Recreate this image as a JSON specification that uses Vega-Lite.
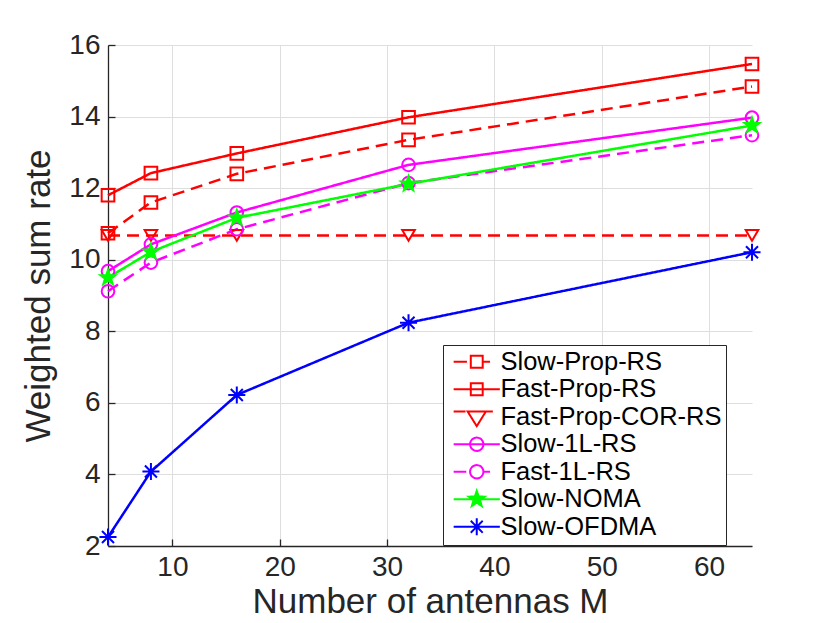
{
  "$schema": "https://vega.github.io/schema/vega-lite/v6.json",
  "autosize": "none",
  "width": 644,
  "height": 501,
  "padding": {"left": 108, "top": 45, "right": 78, "bottom": 77},
  "background": "white",
  "config": {
    "view": {"stroke": null},
    "font": "Liberation Sans",
    "axis": {
      "labelFont": "Liberation Sans",
      "titleFont": "Liberation Sans",
      "labelFontSize": 28,
      "titleFontSize": 35,
      "titleFontWeight": "normal",
      "labelColor": "#262626",
      "titleColor": "#262626",
      "domainColor": "#262626",
      "domainWidth": 1.3,
      "tickColor": "#262626",
      "tickSize": -7,
      "tickWidth": 1.3,
      "gridColor": "#dedede",
      "gridWidth": 1
    }
  },
  "data": {
    "values": [
      {"M": 4, "series": "Slow-Prop-RS", "rate": 10.74},
      {"M": 8, "series": "Slow-Prop-RS", "rate": 11.6},
      {"M": 16, "series": "Slow-Prop-RS", "rate": 12.4},
      {"M": 32, "series": "Slow-Prop-RS", "rate": 13.35},
      {"M": 64, "series": "Slow-Prop-RS", "rate": 14.84},
      {"M": 4, "series": "Fast-Prop-RS", "rate": 11.8},
      {"M": 8, "series": "Fast-Prop-RS", "rate": 12.42},
      {"M": 16, "series": "Fast-Prop-RS", "rate": 12.97},
      {"M": 32, "series": "Fast-Prop-RS", "rate": 13.98},
      {"M": 64, "series": "Fast-Prop-RS", "rate": 15.47},
      {"M": 4, "series": "Fast-Prop-COR-RS", "rate": 10.68},
      {"M": 8, "series": "Fast-Prop-COR-RS", "rate": 10.68},
      {"M": 16, "series": "Fast-Prop-COR-RS", "rate": 10.68},
      {"M": 32, "series": "Fast-Prop-COR-RS", "rate": 10.68},
      {"M": 64, "series": "Fast-Prop-COR-RS", "rate": 10.68},
      {"M": 4, "series": "Slow-1L-RS", "rate": 9.68},
      {"M": 8, "series": "Slow-1L-RS", "rate": 10.43},
      {"M": 16, "series": "Slow-1L-RS", "rate": 11.32},
      {"M": 32, "series": "Slow-1L-RS", "rate": 12.65},
      {"M": 64, "series": "Slow-1L-RS", "rate": 13.97},
      {"M": 4, "series": "Fast-1L-RS", "rate": 9.12},
      {"M": 8, "series": "Fast-1L-RS", "rate": 9.92},
      {"M": 16, "series": "Fast-1L-RS", "rate": 10.85},
      {"M": 32, "series": "Fast-1L-RS", "rate": 12.14},
      {"M": 64, "series": "Fast-1L-RS", "rate": 13.48},
      {"M": 4, "series": "Slow-NOMA", "rate": 9.5},
      {"M": 8, "series": "Slow-NOMA", "rate": 10.22},
      {"M": 16, "series": "Slow-NOMA", "rate": 11.17},
      {"M": 32, "series": "Slow-NOMA", "rate": 12.12},
      {"M": 64, "series": "Slow-NOMA", "rate": 13.75},
      {"M": 4, "series": "Slow-OFDMA", "rate": 2.25},
      {"M": 8, "series": "Slow-OFDMA", "rate": 4.08},
      {"M": 16, "series": "Slow-OFDMA", "rate": 6.22},
      {"M": 32, "series": "Slow-OFDMA", "rate": 8.24},
      {"M": 64, "series": "Slow-OFDMA", "rate": 10.21}
    ]
  },
  "encoding": {
    "x": {
      "field": "M",
      "type": "quantitative",
      "scale": {"domain": [4, 64], "nice": false, "zero": false},
      "axis": {
        "title": "Number of antennas M",
        "values": [10, 20, 30, 40, 50, 60],
        "labelPadding": 14,
        "titlePadding": 3
      }
    },
    "y": {
      "field": "rate",
      "type": "quantitative",
      "scale": {"domain": [2, 16], "nice": false, "zero": false},
      "axis": {
        "title": "Weighted sum rate",
        "values": [2, 4, 6, 8, 10, 12, 14, 16],
        "labelPadding": 15,
        "titlePadding": 12
      }
    },
    "color": {
      "field": "series",
      "type": "nominal",
      "scale": {
        "domain": ["Slow-Prop-RS", "Fast-Prop-RS", "Fast-Prop-COR-RS", "Slow-1L-RS", "Fast-1L-RS", "Slow-NOMA", "Slow-OFDMA"],
        "range": ["#ff0000", "#ff0000", "#ff0000", "#ff00ff", "#ff00ff", "#00ff00", "#0000ff"]
      },
      "legend": {
        "title": null,
        "orient": "none",
        "legendX": 335,
        "legendY": 300,
        "padding": 4,
        "strokeColor": "#262626",
        "fillColor": "white",
        "labelFont": "Liberation Sans",
        "labelFontSize": 25.5,
        "labelColor": "black",
        "labelLimit": 400,
        "symbolSize": 196,
        "symbolOffset": 17,
        "labelOffset": 11,
        "rowPadding": 0.5,
        "encode": {
          "symbols": {
            "update": {
              "shape": {"signal": "datum.value === 'Slow-Prop-RS' ? 'M-3.3,0H-1.4M0.85,0H1.9M-0.85,-0.85H0.85V0.85H-0.85Z' : datum.value === 'Fast-Prop-RS' ? 'M-3.3,0H3.3M-0.85,-0.85H0.85V0.85H-0.85Z' : datum.value === 'Fast-Prop-COR-RS' ? 'M-3.3,-0.75H-1.6M1.3,-0.75H2.3M-1.3,-0.75H1.3L0,1.35Z' : datum.value === 'Slow-1L-RS' ? 'M-3.3,0H3.3M0.95,0A0.95,0.95 0 1,1 -0.95,0A0.95,0.95 0 1,1 0.95,0Z' : datum.value === 'Fast-1L-RS' ? 'M-3.3,0H-1.5M0.95,0H1.9M0.95,0A0.95,0.95 0 1,1 -0.95,0A0.95,0.95 0 1,1 0.95,0Z' : datum.value === 'Slow-NOMA' ? 'M-3.3,0H3.3M0,-1.2L0.28,-0.39L1.14,-0.37L0.46,0.15L0.71,0.97L0,0.48L-0.71,0.97L-0.46,0.15L-1.14,-0.37L-0.28,-0.39Z' : 'M-3.3,0H3.3M0,-1.2V1.2M-0.85,-0.85L0.85,0.85M-0.85,0.85L0.85,-0.85'"},
              "fill": {"signal": "datum.value === 'Slow-NOMA' ? '#00ff00' : 'transparent'"},
              "stroke": {"signal": "scale('color', datum.value)"},
              "strokeDash": {"value": [1, 0]},
              "strokeWidth": {"value": 2},
              "opacity": {"value": 1},
              "size": {"value": 196}
            }
          }
        }
      }
    }
  },
  "layer": [
    {
      "mark": {"type": "line", "strokeWidth": 2.5},
      "encoding": {
        "strokeDash": {
          "condition": {"test": "datum.series === 'Slow-Prop-RS' || datum.series === 'Fast-Prop-COR-RS' || datum.series === 'Fast-1L-RS'", "value": [12, 7]},
          "value": [1, 0]
        }
      }
    },
    {
      "mark": {"type": "point", "filled": false, "strokeWidth": 2, "opacity": 1},
      "encoding": {
        "shape": {
          "condition": [
            {"test": "datum.series === 'Fast-Prop-COR-RS'", "value": "triangle-down"},
            {"test": "datum.series === 'Slow-1L-RS' || datum.series === 'Fast-1L-RS'", "value": "circle"},
            {"test": "datum.series === 'Slow-NOMA'", "value": "M0,-1.25L0.29,-0.41L1.19,-0.39L0.48,0.16L0.74,1.01L0,0.5L-0.74,1.01L-0.48,0.16L-1.19,-0.39L-0.29,-0.41Z"},
            {"test": "datum.series === 'Slow-OFDMA'", "value": "M-1.35,0H1.35M0,-1.35V1.35M-0.95,-0.95L0.95,0.95M-0.95,0.95L0.95,-0.95"}
          ],
          "value": "square"
        },
        "size": {"value": 160},
        "fill": {
          "condition": {"test": "datum.series === 'Slow-NOMA'", "value": "#00ff00"},
          "value": "transparent"
        }
      }
    }
  ]
}
